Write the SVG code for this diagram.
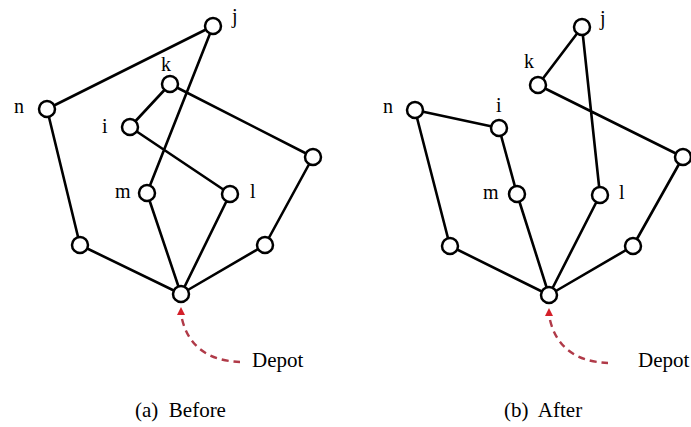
<svg xmlns="http://www.w3.org/2000/svg" width="691" height="427" viewBox="0 0 691 427">
<style>
.e{stroke:#000;stroke-width:2.6;fill:none;stroke-linecap:round}
.n{fill:#fff;stroke:#000;stroke-width:2.5}
.t{font-size:20px;fill:#000}
.c{font-size:21px;fill:#000}
.d{stroke:#b03a48;stroke-width:2.4;fill:none;stroke-dasharray:7 5}
.a{fill:#d4202a}
</style>
<rect width="691" height="427" fill="#fff"/>
<g id="connectors">
<path class="e" d="M47,109L213,26M213,26L147,193M170,84L130,127M130,127L230,194M170,84L313,157M313,157L265,245M265,245L181,294M147,193L181,294M230,194L181,294M47,109L80,245M80,245L181,294"/>
<path class="e" d="M582,27L538,85M582,27L600,195M538,85L683,157M683,157L633,246M633,246L549,295M600,195L549,295M517,194L549,295M499,128L517,194M415,110L499,128M415,110L450,246M450,246L549,295"/>
<path class="d" d="M182,319Q192,360 240,362"/>
<path class="d" d="M550,320Q560,361 608,363"/>
<path class="a" d="M181,307L185,315L177,315Z"/>
<path class="a" d="M549,308L553,316L545,316Z"/>
</g>
<g font-family="Liberation Serif, DejaVu Serif, Times New Roman, serif">
<g id="a-j"><circle class="n" cx="213" cy="26" r="8"/><text class="t" x="232" y="23">j</text></g>
<g id="a-k"><circle class="n" cx="170" cy="84" r="8"/><text class="t" x="161" y="71">k</text></g>
<g id="a-n"><circle class="n" cx="47" cy="109" r="8"/><text class="t" x="14" y="113">n</text></g>
<g id="a-i"><circle class="n" cx="130" cy="127" r="8"/><text class="t" x="102" y="133">i</text></g>
<g id="a-r"><circle class="n" cx="313" cy="157" r="8"/></g>
<g id="a-m"><circle class="n" cx="147" cy="193" r="8"/><text class="t" x="115" y="198">m</text></g>
<g id="a-l"><circle class="n" cx="230" cy="194" r="8"/><text class="t" x="250" y="198">l</text></g>
<g id="a-bl"><circle class="n" cx="80" cy="245" r="8"/></g>
<g id="a-br"><circle class="n" cx="265" cy="245" r="8"/></g>
<g id="a-depot"><circle class="n" cx="181" cy="294" r="8"/><text class="c" x="252" y="367">Depot</text></g>
<g id="b-j"><circle class="n" cx="582" cy="27" r="8"/><text class="t" x="600" y="25">j</text></g>
<g id="b-k"><circle class="n" cx="538" cy="85" r="8"/><text class="t" x="524" y="68">k</text></g>
<g id="b-n"><circle class="n" cx="415" cy="110" r="8"/><text class="t" x="383" y="113">n</text></g>
<g id="b-i"><circle class="n" cx="499" cy="128" r="8"/><text class="t" x="496" y="112">i</text></g>
<g id="b-r"><circle class="n" cx="683" cy="157" r="8"/></g>
<g id="b-m"><circle class="n" cx="517" cy="194" r="8"/><text class="t" x="483" y="199">m</text></g>
<g id="b-l"><circle class="n" cx="600" cy="195" r="8"/><text class="t" x="619" y="199">l</text></g>
<g id="b-bl"><circle class="n" cx="450" cy="246" r="8"/></g>
<g id="b-br"><circle class="n" cx="633" cy="246" r="8"/></g>
<g id="b-depot"><circle class="n" cx="549" cy="295" r="8"/><text class="c" x="638" y="367">Depot</text></g>
<text class="c" x="135" y="417" xml:space="preserve">(a)  Before</text>
<text class="c" x="504" y="417" xml:space="preserve">(b)  After</text>
</g>
</svg>
